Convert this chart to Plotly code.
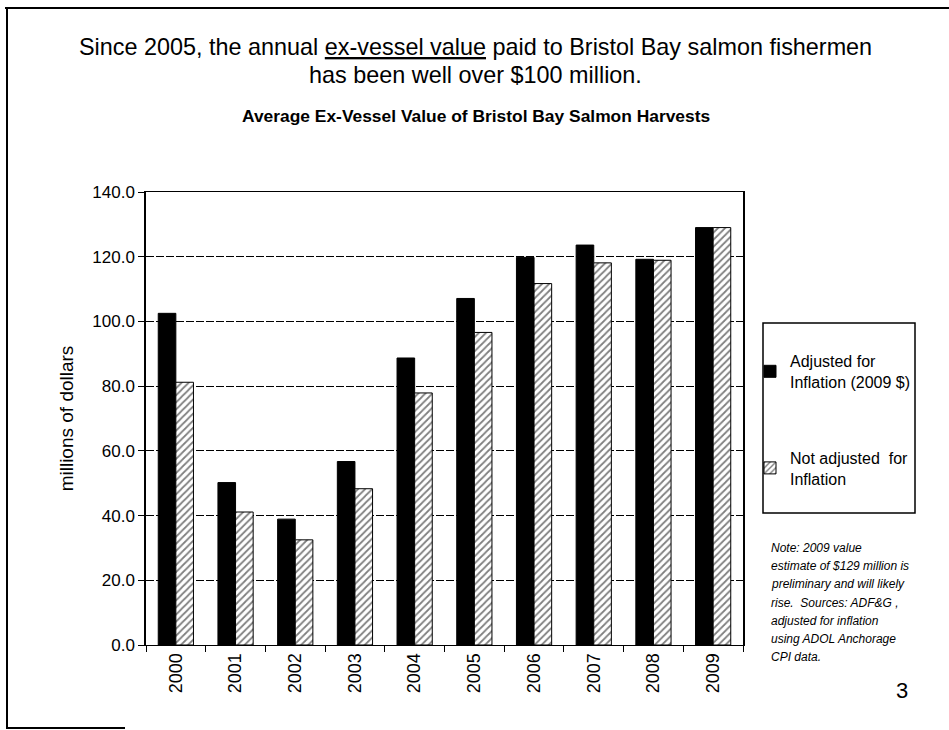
import plotly.graph_objects as go

# Bristol Bay ex-vessel value, millions of dollars
years = ["2000", "2001", "2002", "2003", "2004", "2005", "2006", "2007", "2008", "2009"]
adjusted = [102.5, 50.2, 38.9, 56.7, 88.7, 107.1, 119.8, 123.6, 119.2, 129.0]
not_adjusted = [81.2, 41.1, 32.5, 48.3, 77.9, 96.6, 111.7, 118.1, 118.9, 129.0]
y_ticks = [0, 20, 40, 60, 80, 100, 120, 140]

note_lines = [
    "Note: 2009 value",
    "estimate of $129 million is",
    "preliminary and will likely",
    "rise.  Sources: ADF&G ,",
    "adjusted for inflation",
    "using ADOL Anchorage",
    "CPI data.",
]

W, H = 949, 730
L, R, T, B = 146, 206, 192, 85
PW, PH = W - L - R, H - T - B


def px(x):
    return (x - L) / PW


def py(y):
    return (H - B - y) / PH


FONT = "Liberation Sans, Arial, sans-serif"

fig = go.Figure()
fig.add_trace(go.Bar(
    x=years, y=adjusted, name="Adjusted for<br>Inflation (2009 $)",
    legendgroup="a",
    marker=dict(color="black", line=dict(color="black", width=1)),
))
fig.add_trace(go.Bar(
    x=years, y=not_adjusted, name="Not adjusted  for<br>Inflation",
    legendgroup="b",
    marker=dict(color="white", line=dict(color="black", width=1),
                pattern=dict(shape="/", fgcolor="black", bgcolor="white",
                             size=5, solidity=0.35)),
))

fig.update_layout(
    width=W, height=H,
    margin=dict(l=L, r=R, t=T, b=B),
    paper_bgcolor="white", plot_bgcolor="white",
    barmode="group", bargap=0.41, bargroupgap=0.0,
    font=dict(family=FONT, color="black", size=16),
    showlegend=True,
    legend=dict(x=px(750), y=py(344), xanchor="left", yanchor="top",
                bgcolor="rgba(0,0,0,0)", borderwidth=0,
                tracegroupgap=52, font=dict(size=16, family=FONT)),
    xaxis=dict(
        type="category", showline=True, linecolor="black", linewidth=1,
        mirror=True, ticks="outside", ticklen=6, tickcolor="black",
        tickson="boundaries", tickangle=-90,
        tickfont=dict(size=18, family=FONT), showgrid=False,
    ),
    yaxis=dict(
        range=[0, 140], tickvals=y_ticks, tickformat=".1f",
        showline=True, linecolor="black", linewidth=1.5, mirror=True,
        ticks="outside", ticklen=6, tickcolor="black",
        tickfont=dict(size=17, family=FONT),
        showgrid=True, gridcolor="black", gridwidth=1, griddash="8px,2px",
        zeroline=False,
        title=dict(text="millions of dollars", font=dict(size=19, family=FONT),
                   standoff=14),
    ),
)

annotations = [
    dict(text="Since 2005, the annual <u>ex-vessel value</u> paid to Bristol Bay salmon fishermen",
         x=px(476), y=py(47), font=dict(size=23.4, family=FONT)),
    dict(text="has been well over $100 million.",
         x=px(476), y=py(75), font=dict(size=23.4, family=FONT)),
    dict(text="<b>Average Ex-Vessel Value of Bristol Bay Salmon Harvests</b>",
         x=px(476), y=py(116), font=dict(size=17.4, family=FONT)),
    dict(text="3", x=px(902), y=py(690), font=dict(size=22, family=FONT)),
]
for a in annotations:
    a.update(xref="paper", yref="paper", xanchor="center", yanchor="middle",
             showarrow=False)

for i, line in enumerate(note_lines):
    annotations.append(dict(
        text=f"<i>{line}</i>", x=px(769), y=py(548 + i * 18.2),
        xref="paper", yref="paper", xanchor="left", yanchor="middle",
        showarrow=False, font=dict(size=12, family=FONT),
    ))
fig.update_layout(annotations=annotations)

line_style = dict(color="black", width=2)
fig.update_layout(shapes=[
    # legend frame
    dict(type="rect", xref="paper", yref="paper",
         x0=px(763), x1=px(915), y0=py(513), y1=py(323),
         line=dict(color="black", width=1.5)),
    # page frame
    dict(type="line", xref="paper", yref="paper",
         x0=px(5), x1=px(949), y0=py(8), y1=py(8), line=line_style),
    dict(type="line", xref="paper", yref="paper",
         x0=px(7), x1=px(7), y0=py(8), y1=py(729), line=line_style),
    dict(type="line", xref="paper", yref="paper",
         x0=px(7), x1=px(125), y0=py(728), y1=py(728), line=line_style),
])

fig.write_html("out.html")
